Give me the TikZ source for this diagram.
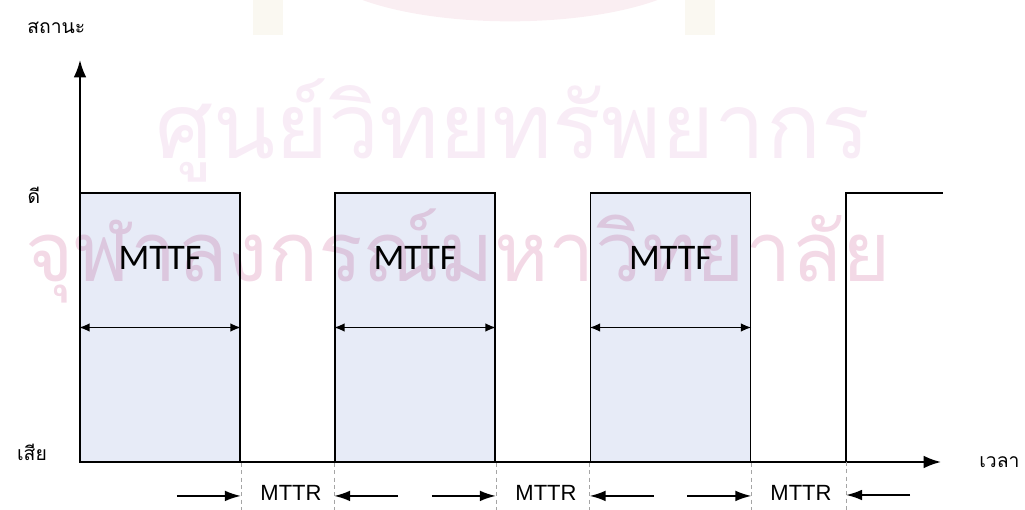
\documentclass[tikz,border=0pt]{standalone}
\usepackage{graphicx}
\usepackage{fontspec}
\setmainfont{Liberation Sans}
\newfontfamily\thaifont[Script=Thai]{Loma}
\newfontfamily\calibfont{Carlito}
\usetikzlibrary{arrows.meta}

\definecolor{upfill}{RGB}{231,235,247}
\definecolor{wmlav}{RGB}{248,236,246}
\definecolor{wmpink}{RGB}{243,217,230}
\definecolor{logopink}{RGB}{250,238,242}
\definecolor{pillar}{RGB}{250,248,241}
\definecolor{guidegrey}{RGB}{165,165,165}

\tikzset{
  axis/.style={line width=1.5pt, -{Latex[length=13pt,width=9.5pt]}},
  upblock/.style={draw, line width=1.4pt, fill=upfill, inner sep=0pt,
                  minimum width=120pt, minimum height=201.75pt},
  wave/.style={line width=1.4pt},
  guide/.style={guidegrey, line width=0.6pt, dash pattern=on 3pt off 2.5pt},
  gaparrow/.style={line width=1.4pt, -{Latex[length=12pt,width=8pt]}},
  dimarrow/.style={line width=1.2pt, {Latex[length=8pt,width=6.5pt]}-{Latex[length=8pt,width=6.5pt]}},
  upttf/.style={font=\calibfont\fontsize{27}{30}\selectfont, inner sep=0pt},
  rtlabel/.style={font=\fontsize{16.5}{18}\selectfont, inner sep=0pt},
  thailabel/.style={font=\thaifont\fontsize{14.5}{16}\selectfont, inner sep=0pt},
}

\begin{document}
\begin{tikzpicture}[x=0.75pt, y=-0.75pt]
\useasboundingbox (0,0) rectangle (1025,510);

% faint emblem at the top edge
\begin{scope}
  \clip (0,0) rectangle (1025,510);
  \fill[logopink] (510,-40) ellipse [x radius=146pt, y radius=46pt];
  \fill[pillar] (253,0) rectangle (283,35);
  \fill[pillar] (685,0) rectangle (715,35);
\end{scope}

% operating periods
\node[upblock] (b1) at (160,327.5) {};
\node[upblock] (b2) at (415,327.5) {};
\node[upblock] (b3) at (670.5,327.5) {};

% faint lettering laid over the chart
\begin{scope}[blend mode=multiply]
  \node[anchor=base west, inner sep=0pt, text=wmlav] (wmtop) at (155,158)
    {\resizebox{536pt}{!}{\thaifont ศูนย์วิทยทรัพยากร}};
  \node[anchor=base west, inner sep=0pt, text=wmpink] (wmbottom) at (25,281)
    {\resizebox{649pt}{!}{\thaifont จุฬาลงกรณ์มหาวิทยาลัย}};
\end{scope}

% last rise of the state curve
\coordinate (r4) at (846,462);
\coordinate (r4top) at (846,193);
\coordinate (r4end) at (943,193);
\draw[wave] (r4) -- (r4top) -- (r4end);

% axes
\coordinate (O) at (80,462);
\coordinate (ytop) at (80,60);
\coordinate (xend) at (941,462);
\draw[axis] (O) -- (ytop);
\draw[axis] (O) -- (xend);

% axis labels
\node[thailabel, anchor=west] (state) at (27,28) {สถานะ};
\node[thailabel] (good) at (34,195) {ดี};
\node[thailabel] (bad) at (32,452) {เสีย};
\node[thailabel, anchor=west] (time) at (979,462) {เวลา};

% MTTF labels and spans
\foreach \b in {b1,b2,b3}{
  \node[upttf] at ([yshift=52.5pt]\b.center) {MTTF};
  \draw[dimarrow] (\b.west) -- (\b.east);
}

% guide lines below the time axis
\foreach \p/\n in {b1.south east/g1, b2.south west/g2, b2.south east/g3,
                   b3.south west/g4, b3.south east/g5, r4/g6}{
  \coordinate (\n) at (\p);
  \coordinate (\n low) at ([yshift=-36pt]\p);
  \draw[guide] (\n) -- (\n low);
}

% MTTR arrows pointing at the guides
\foreach \n/\side in {g1/-1, g2/1, g3/-1, g4/1, g5/-1, g6/1}{
  \coordinate (\n tip) at ([yshift=-24.75pt]\n);
  \coordinate (\n tail) at ([xshift=\side*48pt]\n tip);
  \draw[gaparrow] (\n tail) -- (\n tip);
}

% MTTR labels
\node[rtlabel] (m1) at (291,493) {MTTR};
\node[rtlabel] (m2) at (546,493) {MTTR};
\node[rtlabel] (m3) at (801,493) {MTTR};
\end{tikzpicture}
\end{document}
